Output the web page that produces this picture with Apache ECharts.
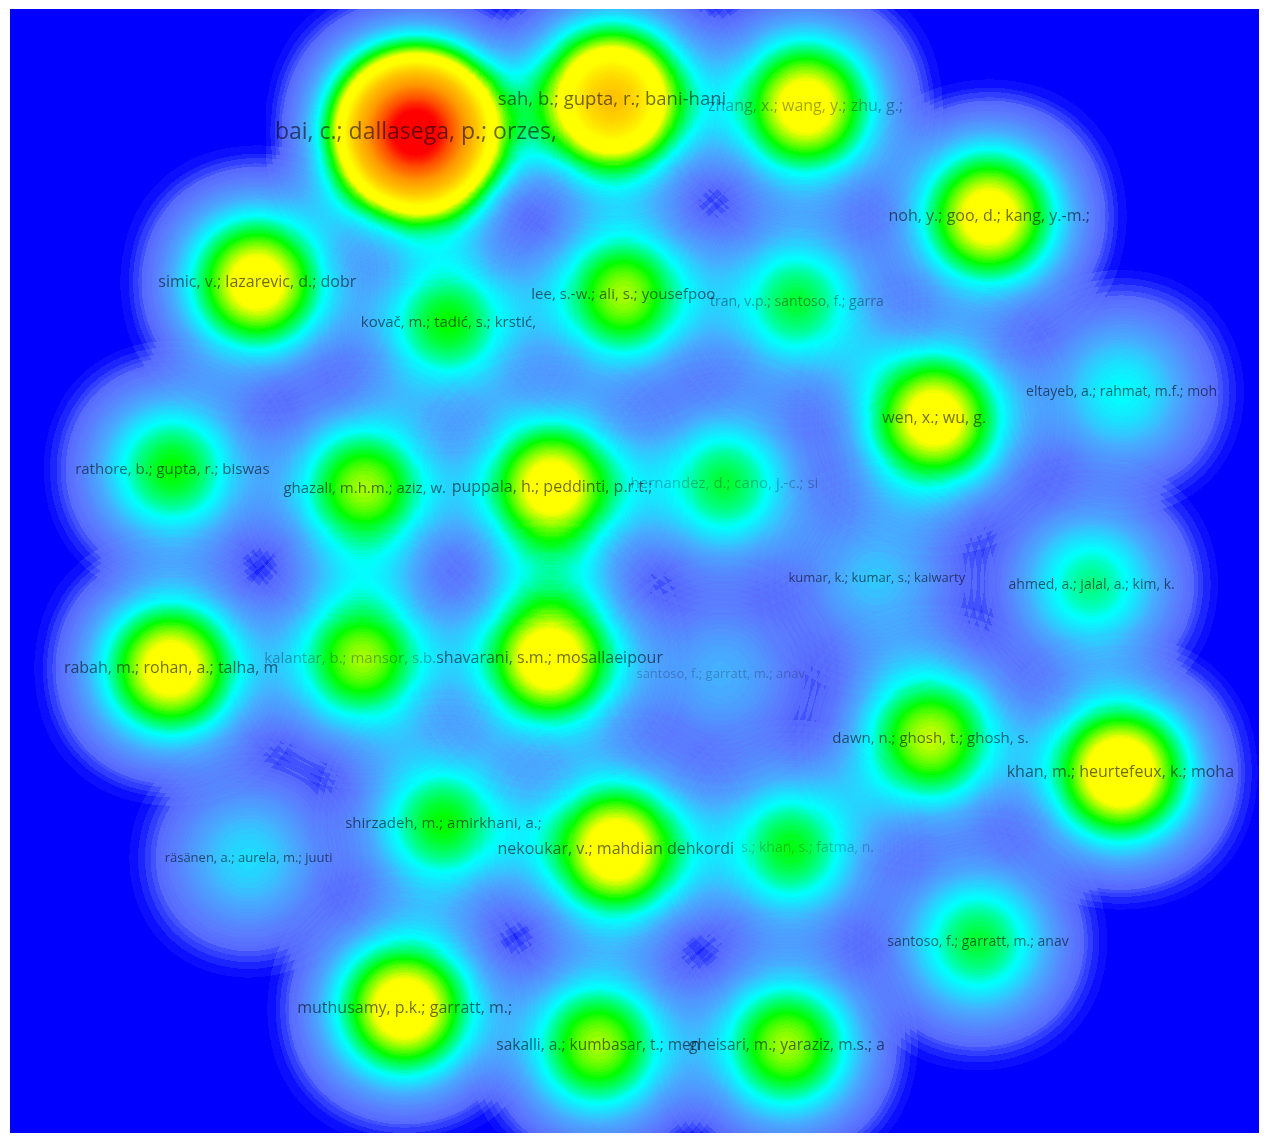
<!DOCTYPE html>
<html>
<head>
<meta charset="utf-8">
<script src="https://cdn.jsdelivr.net/npm/echarts@6/dist/echarts.min.js"></script>
<style>
  html, body { margin: 0; padding: 0; background: #fff; }
  #main { width: 1271px; height: 1142px; }
</style>
</head>
<body>
<div id="main"></div>
<script>
// 作者标签（VOSviewer 截断到 30 字符）
var names = [
    'bai, c.; dallasega, p.; orzes,', 'zhang, x.; wang, y.; zhu, g.;', 'sah, b.; gupta, r.; bani-hani',
    'noh, y.; goo, d.; kang, y.-m.;', 'simic, v.; lazarevic, d.; dobr', 'kovač, m.; tadić, s.; krstić,',
    'tran, v.p.; santoso, f.; garra', 'lee, s.-w.; ali, s.; yousefpoo', 'eltayeb, a.; rahmat, m.f.; moh',
    'wen, x.; wu, g.', 'rathore, b.; gupta, r.; biswas', 'ghazali, m.h.m.; aziz, w.',
    'hernandez, d.; cano, j.-c.; si', 'puppala, h.; peddinti, p.r.t.;', 'kumar, k.; kumar, s.; kaiwarty',
    'ahmed, a.; jalal, a.; kim, k.', 'rabah, m.; rohan, a.; talha, m', 'kalantar, b.; mansor, s.b.',
    'santoso, f.; garratt, m.; anav', 'shavarani, s.m.; mosallaeipour', 'dawn, n.; ghosh, t.; ghosh, s.',
    'khan, m.; heurtefeux, k.; moha', 'shirzadeh, m.; amirkhani, a.;', 'räsänen, a.; aurela, m.; juuti',
    's.; khan, s.; fatma, n.', 'nekoukar, v.; mahdian dehkordi', 'santoso, f.; garratt, m.; anav',
    'muthusamy, p.k.; garratt, m.;', 'sakalli, a.; kumbasar, t.; men', 'gheisari, m.; yaraziz, m.s.; a'
];
// 节点坐标
var xs = [32.5, 63.7, 48.2, 78.4, 19.8, 35.1, 63.0, 49.1, 89.0, 74.0, 13.0, 28.4, 57.2, 43.4, 69.4,
          86.6, 12.9, 28.2, 56.9, 43.2, 73.7, 88.9, 34.7, 19.1, 62.5, 48.5, 77.5, 31.6, 47.1, 62.2];
var ys = [80.1, 82.2, 82.7, 73.4, 68.1, 64.9, 66.5, 67.1, 59.3, 57.2, 53.1, 51.6, 52.0, 51.7, 44.4,
          43.9, 37.2, 38.0, 36.7, 38.0, 31.6, 28.9, 24.8, 22.0, 22.8, 22.7, 15.3, 10.0, 7.0, 7.0];
// 文献数（密度权重）
var docs = [10, 4.0, 5.6, 4.0, 4.0, 2.8, 2.6, 3.3, 1.9, 4.0, 2.8, 3.3, 2.6, 4.0, 1.4,
            2.3, 4.0, 3.3, 1.2, 4.1, 3.4, 4.3, 2.8, 1.6, 2.7, 4.1, 2.6, 4.1, 3.3, 3.3];
// 被引次数（标签大小）
var cites = [170, 100, 125, 100, 100, 90, 80, 90, 80, 100, 90, 90, 90, 100, 70,
             80, 100, 90, 70, 100, 90, 100, 90, 70, 80, 100, 80, 100, 95, 95];

// 被遮挡的标签
var faded = { 1: 0.45, 6: 0.5, 12: 0.35, 17: 0.4, 18: 0.3, 24: 0.3 };
var shiftX = { 17: -12, 24: 17 };

// 密度颜色
var stops = [
    [0, [0, 0, 255]], [0.004, [12, 15, 255]], [0.008, [30, 38, 255]], [0.012, [50, 62, 255]],
    [0.016, [68, 84, 255]], [0.02, [88, 108, 255]], [0.034, [90, 125, 255]], [0.07, [70, 175, 255]],
    [0.112, [0, 255, 255]], [0.165, [0, 255, 0]], [0.215, [255, 255, 0]], [0.26, [255, 255, 0]],
    [0.33, [255, 200, 0]], [0.42, [255, 150, 0]], [0.50, [255, 80, 0]], [0.56, [255, 0, 0]], [1, [255, 0, 0]]
];
function colorAt(t) {
    for (var i = 1; i < stops.length; i++) {
        if (t <= stops[i][0]) {
            var a = stops[i - 1], b = stops[i];
            var k = (t - a[0]) / (b[0] - a[0]);
            var c = a[1].map(function(v, j) { return Math.round(v + (b[1][j] - v) * k); });
            return 'rgb(' + c.join(',') + ')';
        }
    }
    return 'rgb(255,0,0)';
}
var palette = [];
for (var i = 0; i <= 255; i++) palette.push(colorAt(i / 255));

echarts.registerMap('field', {
    type: 'FeatureCollection',
    features: [{
        type: 'Feature',
        properties: { name: 'field' },
        geometry: { type: 'Polygon', coordinates: [[[0, 0], [100, 0], [100, 90], [0, 90], [0, 0]]] }
    }]
});

var heatData = xs.map(function(x, i) { return [x, ys[i], docs[i]]; });
var labelData = names.map(function(n, i) {
    return {
        name: n,
        value: [xs[i], ys[i]],
        label: {
            fontSize: 6 + cites[i] / 10,
            color: 'rgba(0,0,0,' + (faded[i] !== undefined ? faded[i] : 0.72) + ')',
            offset: [shiftX[i] || 0, 0]
        }
    };
});

var chart = echarts.init(document.getElementById('main'));
chart.setOption({
    backgroundColor: '#ffffff',
    animation: false,
    geo: {
        map: 'field',
        roam: false,
        silent: true,
        left: 10, top: 9, width: 1249, height: 1124,
        aspectScale: 1,
        label: { show: false },
        itemStyle: { areaColor: '#0000ff', borderWidth: 0 },
        emphasis: { disabled: true }
    },
    visualMap: {
        show: false,
        type: 'continuous',
        min: 0,
        max: 10,
        seriesIndex: 0,
        inRange: { color: palette }
    },
    series: [{
        type: 'heatmap',
        coordinateSystem: 'geo',
        data: heatData,
        pointSize: 60,
        blurSize: 90,
        minOpacity: 1,
        maxOpacity: 1
    }, {
        type: 'scatter',
        coordinateSystem: 'geo',
        silent: true,
        symbol: 'circle',
        symbolSize: 1,
        itemStyle: { color: 'rgba(0,0,0,0)' },
        label: {
            show: true,
            position: 'inside',
            formatter: '{b}',
            fontFamily: 'Open Sans'
        },
        data: labelData
    }]
});
</script>
</body>
</html>
